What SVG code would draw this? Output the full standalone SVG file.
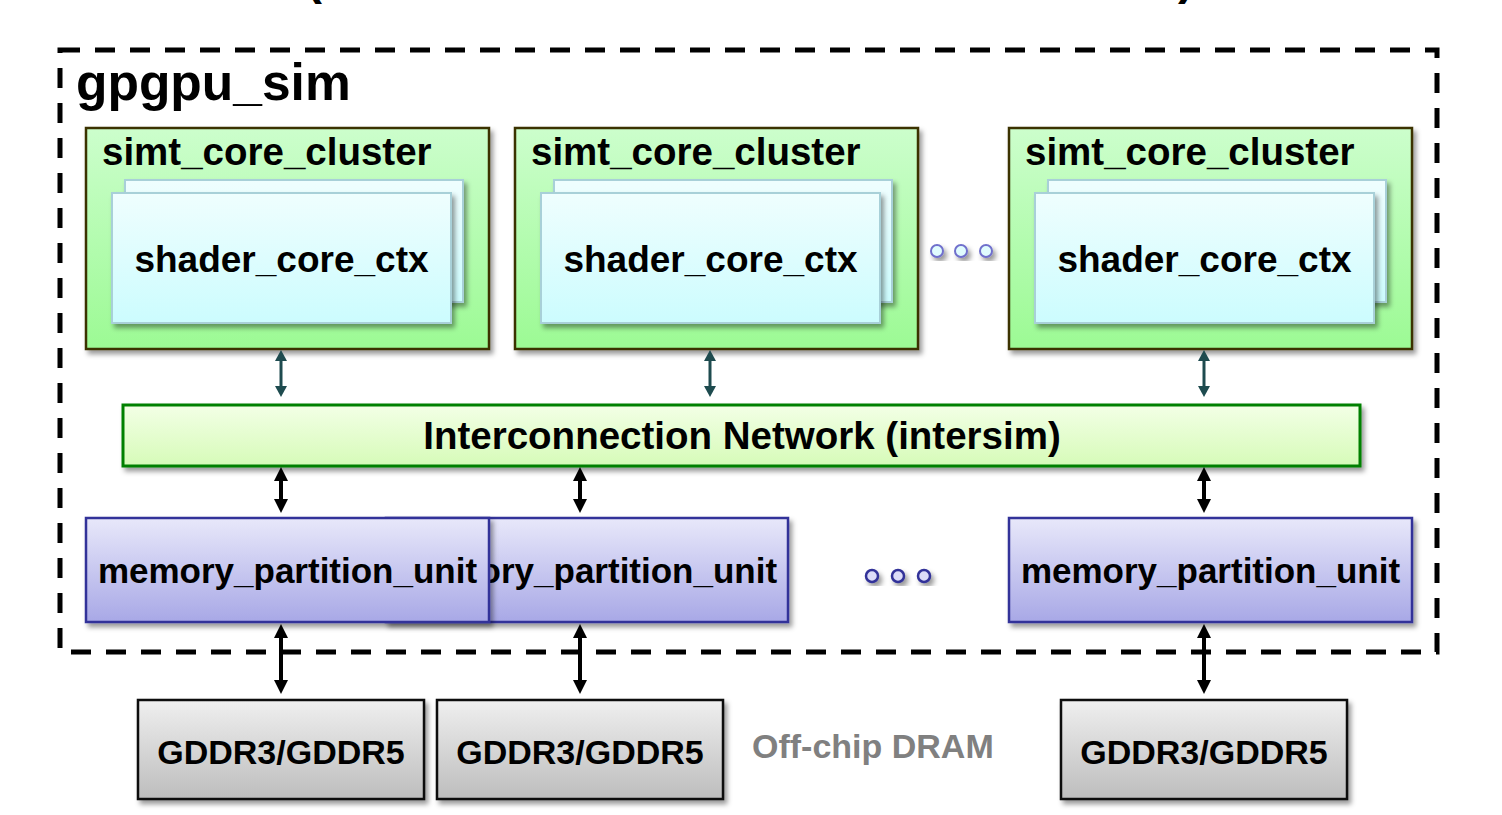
<svg xmlns="http://www.w3.org/2000/svg" width="1502" height="815" viewBox="0 0 1502 815">
<style>
text{font-family:"Liberation Sans",Arial,sans-serif;font-weight:bold;fill:#000}
.cl{fill:url(#gGreen);stroke:#3a3300;stroke-width:2.5}
.sh{fill:url(#gCyan);stroke:#a8d0d8;stroke-width:2}
.mp{fill:url(#gLav);stroke:#333399;stroke-width:2.5}
.gd{fill:url(#gGray);stroke:#111;stroke-width:2.5}
.tl{stroke:#1e4b4f;stroke-width:3;fill:none}
.bk{stroke:#000;stroke-width:4;fill:none}
</style>
<defs>
<linearGradient id="gGreen" x1="0" y1="0" x2="0" y2="1"><stop offset="0" stop-color="#ccfecc"/><stop offset="1" stop-color="#9cfa94"/></linearGradient>
<linearGradient id="gCyan" x1="0" y1="0" x2="0" y2="1"><stop offset="0" stop-color="#effefe"/><stop offset="1" stop-color="#ccfcfe"/></linearGradient>
<linearGradient id="gLav" x1="0" y1="0" x2="0" y2="1"><stop offset="0" stop-color="#e8e8fa"/><stop offset="1" stop-color="#a8a8e6"/></linearGradient>
<linearGradient id="gGray" x1="0" y1="0" x2="0" y2="1"><stop offset="0" stop-color="#efefef"/><stop offset="1" stop-color="#bdbdbd"/></linearGradient>
<linearGradient id="gIc" x1="0" y1="0" x2="0" y2="1"><stop offset="0" stop-color="#f3ffe6"/><stop offset="1" stop-color="#d6fbb8"/></linearGradient>
<filter id="sd" x="-10%" y="-10%" width="130%" height="140%"><feDropShadow dx="3" dy="4" stdDeviation="2.5" flood-color="#000" flood-opacity="0.4"/></filter>
<marker id="aT" markerUnits="userSpaceOnUse" markerWidth="14" markerHeight="14" viewBox="0 -7 12 14" refX="0" refY="0" orient="auto-start-reverse"><path d="M0,-6 L11,0 L0,6 Z" fill="#1e4b4f"/></marker>
<marker id="aB" markerUnits="userSpaceOnUse" markerWidth="16" markerHeight="16" viewBox="0 -8 14 16" refX="0" refY="0" orient="auto-start-reverse"><path d="M0,-7 L14,0 L0,7 Z" fill="#000"/></marker>
</defs>
<rect width="1502" height="815" fill="#fff"/>
<text x="306" y="-6" font-size="48">(</text>
<text x="1178" y="-6" font-size="48">)</text>
<rect x="60" y="50" width="1377" height="602" fill="none" stroke="#000" stroke-width="5" stroke-dasharray="20 15"/>
<text x="76" y="100" font-size="51.5">gpgpu_sim</text>

<g id="cluster1">
<rect class="cl" x="86" y="128" width="403" height="221" filter="url(#sd)"/>
<text x="102" y="165" font-size="38.5">simt_core_cluster</text>
<rect class="sh" x="125" y="180" width="338" height="122" filter="url(#sd)"/>
<rect class="sh" x="112" y="193" width="339" height="130" filter="url(#sd)"/>
<text x="281.5" y="272" font-size="37" text-anchor="middle">shader_core_ctx</text>
</g>
<g id="cluster2">
<rect class="cl" x="515" y="128" width="403" height="221" filter="url(#sd)"/>
<text x="531" y="165" font-size="38.5">simt_core_cluster</text>
<rect class="sh" x="554" y="180" width="338" height="122" filter="url(#sd)"/>
<rect class="sh" x="541" y="193" width="339" height="130" filter="url(#sd)"/>
<text x="710.5" y="272" font-size="37" text-anchor="middle">shader_core_ctx</text>
</g>
<g id="cluster3">
<rect class="cl" x="1009" y="128" width="403" height="221" filter="url(#sd)"/>
<text x="1025" y="165" font-size="38.5">simt_core_cluster</text>
<rect class="sh" x="1048" y="180" width="338" height="122" filter="url(#sd)"/>
<rect class="sh" x="1035" y="193" width="339" height="130" filter="url(#sd)"/>
<text x="1204.5" y="272" font-size="37" text-anchor="middle">shader_core_ctx</text>
</g>
<g id="dots1" filter="url(#sd)">
<circle cx="937" cy="251" r="6" fill="#e0fcfe" stroke="#7070cc" stroke-width="2"/>
<circle cx="961" cy="251" r="6" fill="#e0fcfe" stroke="#7070cc" stroke-width="2"/>
<circle cx="986" cy="251" r="6" fill="#e0fcfe" stroke="#7070cc" stroke-width="2"/>
</g>

<g id="interconnect">
<rect x="123" y="405" width="1237" height="61" fill="url(#gIc)" stroke="#008000" stroke-width="3" filter="url(#sd)"/>
<text x="742" y="449" font-size="38.5" text-anchor="middle">Interconnection Network (intersim)</text>
</g>

<g id="mem2">
<rect class="mp" x="386" y="518" width="402" height="104" filter="url(#sd)"/>
<text x="587.5" y="583" font-size="35" text-anchor="middle">memory_partition_unit</text>
</g>
<g id="mem1">
<rect class="mp" x="86" y="518" width="403" height="104" filter="url(#sd)"/>
<text x="287.5" y="583" font-size="35" text-anchor="middle">memory_partition_unit</text>
</g>
<g id="mem3">
<rect class="mp" x="1009" y="518" width="403" height="104" filter="url(#sd)"/>
<text x="1210.5" y="583" font-size="35" text-anchor="middle">memory_partition_unit</text>
</g>
<g id="dots2" filter="url(#sd)">
<circle cx="872" cy="576" r="6" fill="#dcdcf8" stroke="#333399" stroke-width="2.5"/>
<circle cx="898" cy="576" r="6" fill="#dcdcf8" stroke="#333399" stroke-width="2.5"/>
<circle cx="924" cy="576" r="6" fill="#dcdcf8" stroke="#333399" stroke-width="2.5"/>
</g>

<g id="dram1">
<rect class="gd" x="138" y="700" width="286" height="99" filter="url(#sd)"/>
<text x="281" y="764" font-size="34" text-anchor="middle">GDDR3/GDDR5</text>
</g>
<g id="dram2">
<rect class="gd" x="437" y="700" width="286" height="99" filter="url(#sd)"/>
<text x="580" y="764" font-size="34" text-anchor="middle">GDDR3/GDDR5</text>
</g>
<g id="dram3">
<rect class="gd" x="1061" y="700" width="286" height="99" filter="url(#sd)"/>
<text x="1204" y="764" font-size="34" text-anchor="middle">GDDR3/GDDR5</text>
</g>
<text x="752" y="758" font-size="34" style="fill:#808080">Off-chip DRAM</text>

<g id="connectors">
<line class="tl" x1="281" y1="361" x2="281" y2="386" marker-start="url(#aT)" marker-end="url(#aT)"/>
<line class="tl" x1="710" y1="361" x2="710" y2="386" marker-start="url(#aT)" marker-end="url(#aT)"/>
<line class="tl" x1="1204" y1="361" x2="1204" y2="386" marker-start="url(#aT)" marker-end="url(#aT)"/>
<line class="bk" x1="281" y1="481" x2="281" y2="499" marker-start="url(#aB)" marker-end="url(#aB)"/>
<line class="bk" x1="580" y1="481" x2="580" y2="499" marker-start="url(#aB)" marker-end="url(#aB)"/>
<line class="bk" x1="1204" y1="481" x2="1204" y2="499" marker-start="url(#aB)" marker-end="url(#aB)"/>
<line class="bk" x1="281" y1="638" x2="281" y2="680" marker-start="url(#aB)" marker-end="url(#aB)"/>
<line class="bk" x1="580" y1="638" x2="580" y2="680" marker-start="url(#aB)" marker-end="url(#aB)"/>
<line class="bk" x1="1204" y1="638" x2="1204" y2="680" marker-start="url(#aB)" marker-end="url(#aB)"/>
</g>
</svg>
